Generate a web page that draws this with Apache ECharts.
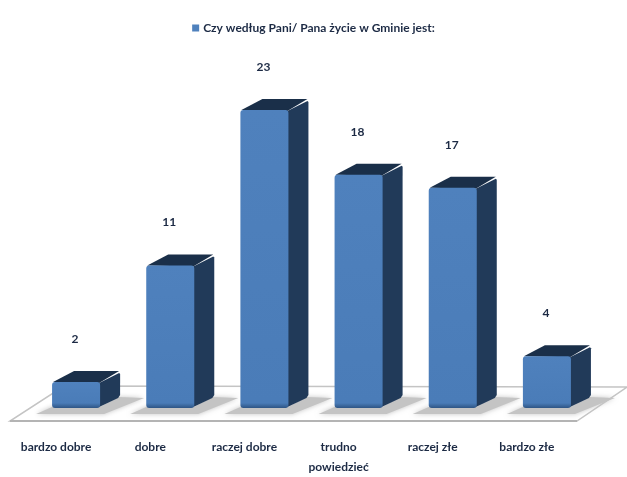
<!DOCTYPE html>
<html><head><meta charset="utf-8">
<style>html,body{margin:0;padding:0;background:#fff}#c{width:627px;height:477px;filter:blur(0.45px)}</style>
<script src="https://cdn.jsdelivr.net/npm/echarts@6/dist/echarts.min.js"></script>
</head><body><div id="c"></div>
<script>
const seriesName = 'Czy według Pani/ Pana życie w Gminie jest:';
const categories = ['bardzo dobre', 'dobre', 'raczej dobre', 'trudno\npowiedzieć', 'raczej złe', 'bardzo złe'];
const values = [2, 11, 23, 18, 17, 4];

const FONT = 'Lato, "Noto Sans", sans-serif';
const INK = '#1c2a44';
const DX = 20, DY = 11;

const chart = echarts.init(document.getElementById('c'), null, {renderer: 'canvas'});

function renderFloor(params, api) {
  const g = params.coordSys;
  const b = g.y + g.height;
  const L = g.x, R = g.x + g.width;
  return {type: 'group', children: [
    {type: 'polygon', shape: {points: [[L - 19, b + 13], [R - 17, b + 13], [R + 33, b - 21], [L + 35, b - 22]]},
     style: {fill: '#fff', stroke: '#c4c4c4', lineWidth: 1.5}},
    {type: 'line', shape: {x1: L - 19, y1: b + 13, x2: R - 17, y2: b + 13},
     style: {stroke: '#b4b4b4', lineWidth: 2}}
  ]};
}

function renderBar(params, api) {
  const i = api.value(0), v = api.value(1);
  const top = api.coord([i, v]), base = api.coord([i, 0]);
  const w = api.size([1, 0])[0] * 0.51;
  const x0 = top[0] - w / 2, x1 = top[0] + w / 2, yt = top[1], yb = base[1];
  const front = new echarts.graphic.LinearGradient(0, 0, 0, 1, [
    {offset: 0, color: '#4f81bd'},
    {offset: Math.max(0, 1 - 5 / (yb - yt)), color: '#4a7cb8'},
    {offset: 1, color: '#2e5585'}
  ]);
  return {type: 'group', children: [
    // cast shadow on the floor
    {type: 'polygon', shape: {points: [[x0 - 16, yb + 6], [x1 + 4, yb + 6], [x1 + DX + 24, yb - DY + 1], [x1 + DX - 2, yb - DY], [x1, yb - 1], [x0, yb - 1]]},
     style: {fill: '#c4c4c4', shadowColor: '#c4c4c4', shadowBlur: 5}},
    // side
    {type: 'polygon', shape: {points: [[x1 - 1, yt + 1], [x1 + DX - 1, yt - DY + 2], [x1 + DX, yt - DY + 3], [x1 + DX, yb - DY - 2], [x1 + DX - 2, yb - DY + 1], [x1 - 1, yb - 1]]},
     style: {fill: '#213a59'}},
    // top
    {type: 'polygon', shape: {points: [[x0 + 1, yt], [x0 + DX + 2, yt - DY], [x1 + DX - 1, yt - DY], [x1 - 1, yt + 1]]},
     style: {fill: '#1a2f49'}},
    // front
    {type: 'rect', shape: {x: x0, y: yt, width: w, height: yb - yt, r: 3}, style: {fill: front}},
    // value
    {type: 'text', style: {text: String(v), x: top[0] - 1, y: yt - 43, align: 'center', verticalAlign: 'middle',
      fill: INK, font: 'bold 12px ' + FONT}}
  ]};
}

chart.setOption({
  animation: false,
  backgroundColor: '#fff',
  legend: {
    show: true, data: [seriesName], top: 17, left: 'center',
    itemWidth: 7, itemHeight: 7, itemGap: 4, icon: 'rect',
    textStyle: {color: INK, fontFamily: FONT, fontWeight: 'bold', fontSize: 12, padding: [0, 0, 0, -1]}
  },
  grid: {left: 29, right: 33, top: 84, bottom: 60},
  xAxis: {
    type: 'category', data: categories,
    axisLine: {show: false}, axisTick: {show: false}, splitLine: {show: false},
    axisLabel: {interval: 0, margin: 29, color: INK, fontFamily: FONT, fontWeight: 'bold', fontSize: 12,
      lineHeight: 20, padding: [0, 40, 0, 0], verticalAlign: 'top'}
  },
  yAxis: {type: 'value', min: 0, max: 25, show: false, splitLine: {show: false}},
  series: [
    {type: 'custom', silent: true, z: 1, renderItem: renderFloor, data: [0], encode: {x: 0}},
    {type: 'custom', name: seriesName, z: 2, renderItem: renderBar,
     itemStyle: {color: '#4f81bd'},
     encode: {x: 0, y: 1},
     data: values.map((v, i) => [i, v])}
  ]
});
</script></body></html>
